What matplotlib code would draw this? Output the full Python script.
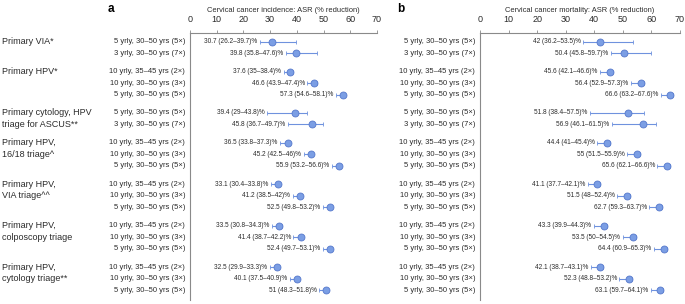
import numpy as np
import matplotlib
matplotlib.use("Agg")
import matplotlib.pyplot as plt
from matplotlib.transforms import offset_copy

plt.rcParams['font.family'] = ['Liberation Sans', 'DejaVu Sans']

# groups of strategies
groups = ["Primary VIA*", "Primary HPV*", "Primary cytology, HPV\ntriage for ASCUS**",
          "Primary HPV,\n16/18 triage^", "Primary HPV,\nVIA triage^^",
          "Primary HPV,\ncolposcopy triage", "Primary HPV,\ncytology triage**"]
r5 = "5 yrly, 30–50 yrs (5×)"
r3 = "3 yrly, 30–50 yrs (7×)"
r10a = "10 yrly, 35–45 yrs (2×)"
r10b = "10 yrly, 30–50 yrs (3×)"
rows = [[r5, r3], [r10a, r10b, r5], [r5, r3], [r10a, r10b, r5],
        [r10a, r10b, r5], [r10a, r10b, r5], [r10a, r10b, r5]]

# incidence (% reduction): value, lower, upper
inc_val = [30.7, 39.8, 37.6, 46.6, 57.3, 39.4, 45.8, 36.5, 45.2, 55.9,
           33.1, 41.2, 52.5, 33.5, 41.4, 52.4, 32.5, 40.1, 51]
inc_lo = [26.2, 35.8, 35, 43.9, 54.6, 29, 36.7, 33.8, 42.5, 53.2,
          30.4, 38.5, 49.8, 30.8, 38.7, 49.7, 29.9, 37.5, 48.3]
inc_hi = [39.7, 47.6, 38.4, 47.4, 58.1, 43.8, 49.7, 37.3, 46, 56.6,
          33.8, 42, 53.2, 34.3, 42.2, 53.1, 33.3, 40.9, 51.8]

# mortality (% reduction)
mort_val = [42, 50.4, 45.6, 56.4, 66.6, 51.8, 56.9, 44.4, 55, 65.6,
            41.1, 51.5, 62.7, 43.3, 53.5, 64.4, 42.1, 52.3, 63.1]
mort_lo = [36.2, 45.8, 42.1, 52.9, 63.2, 38.4, 46.1, 41, 51.5, 62.1,
           37.7, 48, 59.3, 39.9, 50, 60.9, 38.7, 48.8, 59.7]
mort_hi = [53.5, 59.7, 46.6, 57.3, 67.6, 57.5, 61.5, 45.4, 55.9, 66.6,
           42.1, 52.4, 63.7, 44.3, 54.5, 65.3, 43.1, 53.2, 64.1]

# y positions: 1 unit per row, extra gap between groups
ypos = []
group_y = []
y = 0.0
for g in rows:
    group_y.append(y)
    for _ in g:
        ypos.append(y)
        y += 1
    y += 0.6
ypos = np.array(ypos)
row_labels = [r for g in rows for r in g]

W, H = 685, 304
fig = plt.figure(figsize=(W / 100, H / 100), dpi=100)

mc = '#7b9ee4'
ec = '#5578cc'
lc = '#6f92de'
spine_c = '#8a8a8a'
txt_c = '#2b2b2b'


def panel(left, right, val, lo, hi, title, letter, letter_x):
    ax = fig.add_axes([left / W, 4 / H, (right - left) / W, (H - 33 - 4) / H])
    ax.set_xlim(0, 70)
    ax.set_ylim(ypos[-1] + 0.87, -0.76)
    val = np.array(val)
    lo = np.array(lo)
    hi = np.array(hi)
    ax.errorbar(val, ypos, xerr=[val - lo, hi - val], fmt='o', ms=5,
                mfc=mc, mec=ec, mew=0.6, ecolor=lc, elinewidth=0.8,
                capsize=1.7, capthick=0.8)
    tr = offset_copy(ax.transData, fig=fig, x=-2.5, y=0, units='dots')
    for v, l, h, yy in zip(val, lo, hi, ypos):
        ax.text(l, yy, f"{v:g} ({l:g}–{h:g})%", transform=tr, ha='right',
                va='center', fontsize=4.7, color=txt_c)
    # row labels
    tr2 = offset_copy(ax.get_yaxis_transform(), fig=fig, x=-5, y=0, units='dots')
    for lab, yy in zip(row_labels, ypos):
        ax.text(0, yy, lab, transform=tr2, ha='right', va='center',
                fontsize=5.5, color=txt_c)
    ax.set_yticks([])
    ax.xaxis.tick_top()
    ax.set_xticks(np.arange(0, 71, 10))
    ax.tick_params(axis='x', labelsize=6.5, length=2.5, width=0.6,
                   color=spine_c, labelcolor=txt_c, pad=4)
    for s in ['right', 'bottom']:
        ax.spines[s].set_visible(False)
    for s in ['left', 'top']:
        ax.spines[s].set_color(spine_c)
        ax.spines[s].set_linewidth(0.8)
    fig.text((left + right) / 2 / W, 1 - 10 / H, title, ha='center',
             va='center', fontsize=5.4, color=txt_c)
    fig.text(letter_x / W, 1 - 9 / H, letter, ha='center', va='center',
             fontsize=8.5, fontweight='bold')
    return ax


ax_a = panel(190, 377, inc_val, inc_lo, inc_hi,
             "Cervical cancer incidence: ASR (% reduction)", "a", 111)
ax_b = panel(480, 680, mort_val, mort_lo, mort_hi,
             "Cervical cancer mortality: ASR (% reduction)", "b", 401)

# group labels on the far left, one line per row
for g, gy in zip(groups, group_y):
    for i, line in enumerate(g.split("\n")):
        yd = ax_a.transData.transform((0, gy + i))[1]
        fig.text(2 / W, yd / H, line, ha='left', va='center',
                 fontsize=6.5, color=txt_c)

fig.savefig("out.png", dpi=100)
